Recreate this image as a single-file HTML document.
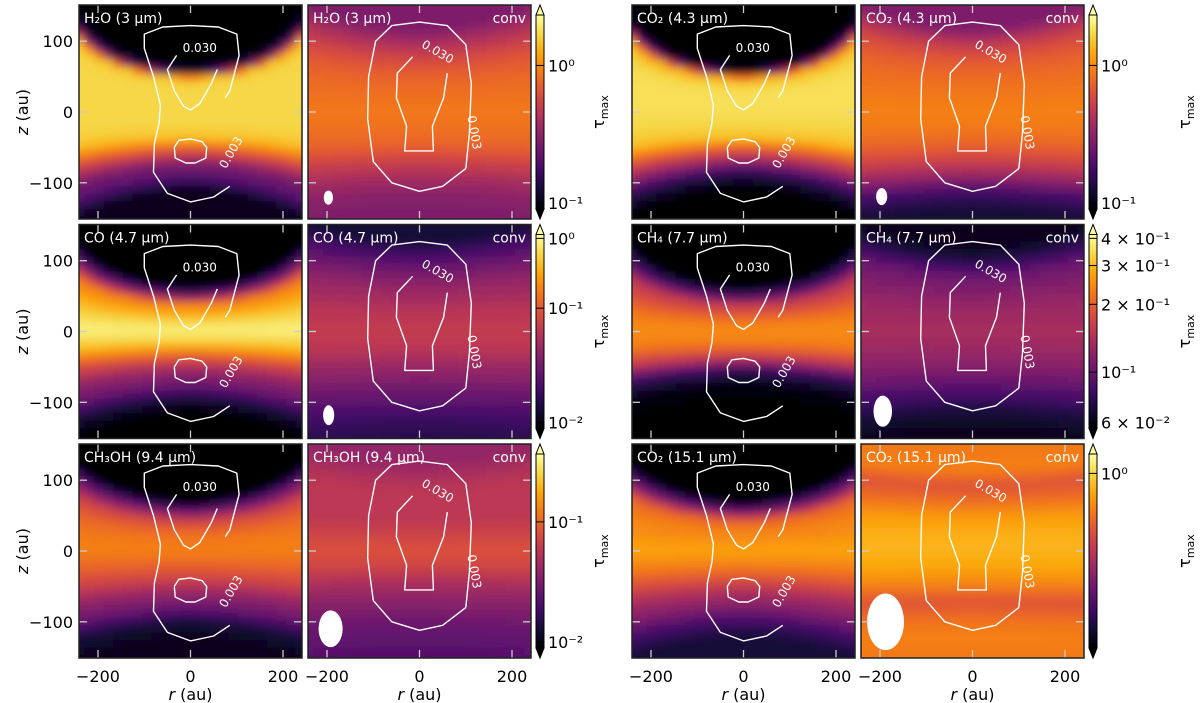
<!DOCTYPE html>
<html><head><meta charset="utf-8"><style>
html,body{margin:0;padding:0;background:#fff;}
svg{display:block;font-family:"DejaVu Sans","Liberation Sans",sans-serif;}
</style></head><body>
<svg id="fig" width="1200" height="703" viewBox="0 0 1200 703" xmlns="http://www.w3.org/2000/svg">
<defs>
<filter id="blur" x="-10%" y="-10%" width="120%" height="120%"><feGaussianBlur stdDeviation="4"/></filter>
<linearGradient id="inferno" x1="0" y1="1" x2="0" y2="0">
<stop offset="0" stop-color="#000004"/><stop offset="0.1" stop-color="#160b39"/><stop offset="0.2" stop-color="#420a68"/><stop offset="0.3" stop-color="#6a176e"/><stop offset="0.4" stop-color="#932667"/><stop offset="0.5" stop-color="#bc3754"/><stop offset="0.6" stop-color="#dd513a"/><stop offset="0.7" stop-color="#f37819"/><stop offset="0.8" stop-color="#fca50a"/><stop offset="0.9" stop-color="#f6d746"/><stop offset="1" stop-color="#fcffa4"/>
</linearGradient>
</defs>
<g id="root"></g>
</svg>
<script>
// ---- data ----
const zLevels = [150,125,100,75,50,25,0,-25,-50,-75,-100,-125,-150];
const rTicks = [-200,0,200];
const zTicks = [100,0,-100];
const titles = ["H₂O (3 μm)","H₂O (3 μm)","CO₂ (4.3 μm)","CO₂ (4.3 μm)","CO (4.7 μm)","CO (4.7 μm)","CH₄ (7.7 μm)","CH₄ (7.7 μm)","CH₃OH (9.4 μm)","CH₃OH (9.4 μm)","CO₂ (15.1 μm)","CO₂ (15.1 μm)"];
const prof1 = [0,0.1,0.85,0.9,0.9,0.9,0.9,0.9,0.85,0.6,0.35,0.25,0.05];
const prof2 = [0.35,0.45,0.55,0.62,0.66,0.68,0.7,0.68,0.65,0.55,0.45,0.38,0.35];
const prof3 = [0,0.05,0.8,0.9,0.92,0.92,0.92,0.9,0.85,0.6,0.35,0.1,0];
const prof4 = [0.35,0.5,0.6,0.65,0.68,0.7,0.72,0.7,0.65,0.55,0.4,0.2,0.1];
const prof5 = [0,0,0.3,0.7,0.8,0.9,0.97,0.85,0.6,0.4,0.3,0.1,0];
const prof6 = [0.1,0.22,0.32,0.4,0.45,0.5,0.52,0.5,0.42,0.35,0.28,0.2,0.15];
const prof7 = [0,0,0.2,0.5,0.6,0.7,0.75,0.7,0.5,0.15,0.02,0,0];
const prof8 = [0.05,0.15,0.3,0.35,0.4,0.43,0.45,0.42,0.38,0.3,0.2,0.1,0.05];
const prof9 = [0,0,0.3,0.55,0.65,0.7,0.72,0.65,0.55,0.4,0.3,0.1,0.05];
const prof10 = [0.4,0.45,0.5,0.5,0.5,0.55,0.6,0.55,0.45,0.38,0.32,0.28,0.25];
const prof11 = [0,0,0.3,0.65,0.72,0.75,0.8,0.72,0.6,0.45,0.35,0.2,0.1];
const prof12 = [0.7,0.72,0.6,0.68,0.78,0.82,0.83,0.8,0.72,0.6,0.68,0.72,0.7];
const profiles = [prof1,prof2,prof3,prof4,prof5,prof6,prof7,prof8,prof9,prof10,prof11,prof12];
const pinch = [1.2,0.3,1.2,0.3,1.0,0.2,1.0,0.3,0.8,0.2,0.8,0.1];
// contours (r, z) in au
const modelOuter = [[85,-105],[50,-120],[0,-127],[-50,-115],[-80,-85],[-78,-45],[-68,-15],[-65,10],[-80,50],[-100,90],[-100,110],[-60,120],[0,122],[60,120],[100,110],[105,80],[85,30],[75,20]];
const modelInner = [[-30,80],[-50,60],[-35,30],[-15,8],[0,3],[20,12],[45,40],[58,60]];
const modelEllipse = [[-35,-50],[-33,-65],[-10,-72],[10,-72],[33,-65],[35,-50],[25,-42],[0,-38],[-25,-40],[-35,-50]];
const convOuter = [[100,-80],[50,-105],[0,-112],[-60,-100],[-100,-70],[-112,-10],[-110,50],[-95,100],[-60,122],[0,127],[60,122],[100,95],[112,40],[108,-30],[100,-80]];
const convInner = [[-15,78],[-48,55],[-50,20],[-28,-20],[-32,-55],[30,-55],[28,-20],[52,20],[60,55]];
const beamRx = [0,10,0,12,0,12,0,20,0,26,0,40];
const beamRz = [0,10,0,12,0,14,0,22,0,26,0,40];
// colorbars
const cbLabels = [["10⁰","10⁻¹"],["10⁰","10⁻¹","10⁻²"],["10⁻¹","10⁻²"],["10⁰","10⁻¹"],["4 × 10⁻¹","3 × 10⁻¹","2 × 10⁻¹","10⁻¹","6 × 10⁻²"],["10⁰"]];
const cbPos = [[0.74,0.03],[0.98,0.62,0.03],[0.65,0.03],[0.74,0.03],[0.98,0.84,0.64,0.29,0.03],[0.9]];

// ---- layout ----
const NS="http://www.w3.org/2000/svg";
const root=document.getElementById('root');
function el(t,a,p){const e=document.createElementNS(NS,t);for(const k in a)e.setAttribute(k,a[k]);(p||root).appendChild(e);return e;}
const colX=[79,308,632,861], rowY=[5,224.5,444], PW=223, PH=214;
const stops=[[0,[0,0,4]],[0.1,[22,11,57]],[0.2,[66,10,104]],[0.3,[106,23,110]],[0.4,[147,38,103]],[0.5,[188,55,84]],[0.6,[221,81,58]],[0.7,[243,120,25]],[0.8,[252,165,10]],[0.9,[246,215,70]],[1,[252,255,164]]];
function cmap(v){v=Math.max(0,Math.min(1,v));for(let i=1;i<stops.length;i++){if(v<=stops[i][0]){const a=stops[i-1],b=stops[i],t=(v-a[0])/(b[0]-a[0]);return 'rgb('+a[1].map((c,j)=>Math.round(c+(b[1][j]-c)*t)).join(',')+')';}}return 'rgb(252,255,164)';}
function interp(prof,z){z=Math.max(-150,Math.min(150,z));const f=(150-z)/25;const i=Math.min(11,Math.floor(f));const t=f-i;return prof[i]*(1-t)+prof[i+1]*t;}

for(let p=0;p<12;p++){
  const row=Math.floor(p/4), col=p%4, x0=colX[col], y0=rowY[row];
  const sx=r=>x0+PW/2+r*0.4625, sy=z=>y0+PH/2-z*0.708;
  const g=el('g',{});
  
  
  const cp=el('clipPath',{id:'c'+p},g);
  el('rect',{x:x0,y:y0,width:PW,height:PH},cp);
  const hm=el('g',{'clip-path':'url(#c'+p+')'},g);
  const hb=el('g',{filter:'url(#blur)'},hm);
  
  
  const NC=28,NR=36, RW=290, ZH=190;
  for(let i=0;i<NC;i++)for(let j=0;j<NR;j++){
    const r=-RW+(i+0.5)*2*RW/NC, z=ZH-(j+0.5)*2*ZH/NR;
    const ar=Math.min(1,Math.abs(r)/242);
    const c=1-Math.pow(ar,1.5);
    const ze= z>0? z*(1+pinch[p]*c) : z*(1+0.3*pinch[p]*c);
    const v=interp(profiles[p],ze);
    const cell=el('rect',{x:sx(r-RW/NC)-0.5,y:sy(z+ZH/NR)-0.5,width:2*RW/NC*0.4625+1,height:2*ZH/NR*0.708+1,fill:cmap(v)},hb);
    
    
  }
  const conv=p%2===1;
  const line=pts=>pts.map(q=>sx(q[0]).toFixed(1)+','+sy(q[1]).toFixed(1)).join(' ');
  const cs = conv?[convOuter,convInner]:[modelOuter,modelInner,modelEllipse];
  cs.forEach((c,k)=>{const pl=el('polyline',{points:line(c),fill:'none',stroke:'#fff','stroke-width':1.4,'stroke-linejoin':'round'},hm);
    
    });
  const lx1=sx(conv?35:20), ly1=sy(conv?80:85);
  const l1=el('text',{x:lx1,y:ly1,fill:'#fff','font-size':12,'text-anchor':'middle',transform:conv?`rotate(30 ${lx1} ${ly1})`:''},hm);l1.textContent='0.030';
  
  
  const lx2=sx(conv?110:95), ly2=sy(conv?-30:-60);
  const l2=el('text',{x:lx2,y:ly2,fill:'#fff','font-size':12,'text-anchor':'middle',transform:`rotate(${conv?80:-60} ${lx2} ${ly2})`},hm);l2.textContent='0.003';
  
  
  if(conv){const b=el('ellipse',{cx:sx(-200+beamRx[p]*0.3),cy:sy(-128+beamRz[p]*0.7),rx:beamRx[p]*0.4625,ry:beamRz[p]*0.708,fill:'#fff'},hm);
    
    }
  const t=el('text',{x:x0+5,y:y0+18,fill:'#fff','font-size':14},g);t.textContent=titles[p];
  
  
  if(conv){const tc=el('text',{x:x0+PW-5,y:y0+18,fill:'#fff','font-size':14,'text-anchor':'end'},g);tc.textContent='conv';
    
    }
  rTicks.forEach(r=>{el('line',{x1:sx(r),x2:sx(r),y1:y0,y2:y0+8,stroke:'#ccc','stroke-width':1.3},g);el('line',{x1:sx(r),x2:sx(r),y1:y0+PH,y2:y0+PH-8,stroke:'#ccc','stroke-width':1.3},g);});
  zTicks.forEach(z=>{el('line',{x1:x0,x2:x0+8,y1:sy(z),y2:sy(z),stroke:'#ccc','stroke-width':1.3},g);el('line',{x1:x0+PW,x2:x0+PW-8,y1:sy(z),y2:sy(z),stroke:'#ccc','stroke-width':1.3},g);});
  el('rect',{x:x0,y:y0,width:PW,height:PH,fill:'none',stroke:'#222','stroke-width':1.5},g);
  if(col===0){
    zTicks.forEach(z=>{const tl=el('text',{x:x0-6,y:sy(z)+6,'font-size':16,'text-anchor':'end'},g);tl.textContent=z<0?'−'+(-z):z;
      
      });
    const yl=el('text',{x:28,y:y0+PH/2,'font-size':16,'text-anchor':'middle',transform:`rotate(-90 28 ${y0+PH/2})`},g);
    yl.innerHTML='<tspan font-style="italic">z</tspan> (au)';
    
    
  }
  if(row===2){
    rTicks.forEach(r=>{const tl=el('text',{x:sx(r),y:682,'font-size':16,'text-anchor':'middle'},g);tl.textContent=r<0?'−'+(-r):r;
      
      });
    const xl=el('text',{x:x0+PW/2,y:700,'font-size':16,'text-anchor':'middle'},g);
    xl.innerHTML='<tspan font-style="italic">r</tspan> (au)';
    
    
  }
}
const cbX=[536,1089];
for(let k=0;k<6;k++){
  const row=k%3, side=Math.floor(k/3), x=cbX[side], y0=rowY[row], top=y0+10, bot=y0+PH-10;
  const g=el('g',{});
  
  
  el('rect',{x:x,y:top,width:8,height:bot-top,fill:'url(#inferno)',stroke:'#000','stroke-width':1},g);
  el('polygon',{points:`${x},${top} ${x+8},${top} ${x+4},${y0}`,fill:'#fcffa4',stroke:'#000','stroke-width':1},g);
  el('polygon',{points:`${x},${bot} ${x+8},${bot} ${x+4},${y0+PH}`,fill:'#000004',stroke:'#000','stroke-width':1},g);
  cbLabels[k].forEach((s,i)=>{const yy=bot-(bot-top)*cbPos[k][i];
    el('line',{x1:x,x2:x+8,y1:yy,y2:yy,stroke:'#000','stroke-width':1},g);
    const t=el('text',{x:x+12,y:yy+6,'font-size':16},g);t.textContent=s;
    
    });
  const lx=side?1190:604;
  const tl=el('text',{x:lx,y:y0+PH/2,'font-size':16,'text-anchor':'middle',transform:`rotate(-90 ${lx} ${y0+PH/2})`},g);
  tl.innerHTML='τ<tspan font-size="11" dy="4">max</tspan>';
  
  
}
</script>
</body></html>
